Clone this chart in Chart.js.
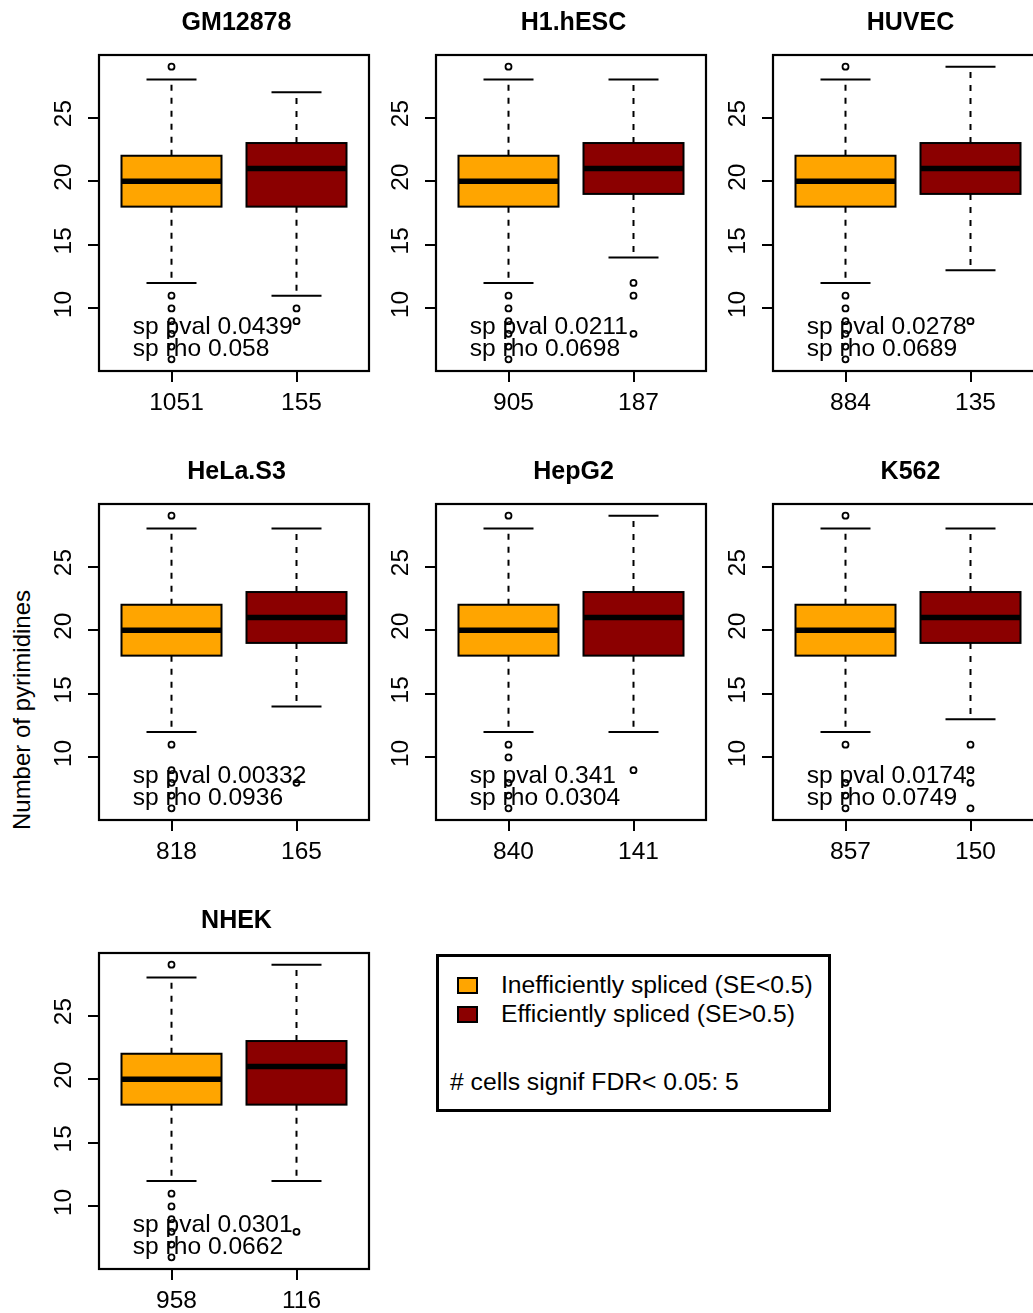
<!DOCTYPE html>
<html>
<head>
<meta charset="utf-8">
<title>Pyrimidines by splicing efficiency</title>
<script src="https://cdn.jsdelivr.net/npm/chart.js@4.4.1/dist/chart.umd.min.js"></script>
<style>
  html, body { margin: 0; padding: 0; background: #fff; }
  body {
    position: relative;
    width: 1033px;
    height: 1313px;
    overflow: hidden;
    font-family: "Liberation Sans", Arial, sans-serif;
    color: #000;
  }
  .panel { position: absolute; }
  .ylab {
    position: absolute;
    left: 22px;
    top: 710px;
    transform: translate(-50%, -50%) rotate(-90deg);
    font-size: 24px;
    white-space: nowrap;
  }
  .legend {
    position: absolute;
    left: 436px;
    top: 954px;
    width: 395px;
    height: 158px;
    box-sizing: border-box;
    border: 3px solid #000;
  }
  .legend .sw {
    position: absolute;
    left: 18px;
    width: 21px;
    height: 17px;
    box-sizing: border-box;
    border: 2px solid #000;
  }
  .legend .txt {
    position: absolute;
    height: 30px;
    line-height: 30px;
    font-size: 24.7px;
    white-space: nowrap;
  }
</style>
</head>
<body>
<div class="ylab">Number of pyrimidines</div>
<div class="legend" id="legend"></div>

<script>
// cell lines, one panel each
const cellLines = ["GM12878", "H1.hESC", "HUVEC", "HeLa.S3", "HepG2", "K562", "NHEK"];

// number of exons in each group (x tick labels)
const nIneff = [1051, 905, 884, 818, 840, 857, 958];
const nEff = [155, 187, 135, 165, 141, 150, 116];

// [lower whisker, Q1, median, Q3, upper whisker]
const statsIneff = [
  [12, 18, 20, 22, 28],
  [12, 18, 20, 22, 28],
  [12, 18, 20, 22, 28],
  [12, 18, 20, 22, 28],
  [12, 18, 20, 22, 28],
  [12, 18, 20, 22, 28],
  [12, 18, 20, 22, 28],
];
const statsEff = [
  [11, 18, 21, 23, 27],
  [14, 19, 21, 23, 28],
  [13, 19, 21, 23, 29],
  [14, 19, 21, 23, 28],
  [12, 18, 21, 23, 29],
  [13, 19, 21, 23, 28],
  [12, 18, 21, 23, 29],
];

// points beyond the whiskers
const outIneff = [
  [29, 11, 10, 9, 8, 7, 6],
  [29, 11, 10, 9, 8, 7, 6],
  [29, 11, 10, 9, 8, 7, 6],
  [29, 11, 9, 8, 7, 6],
  [29, 11, 10, 8, 7, 6],
  [29, 11, 8, 7, 6],
  [29, 11, 10, 9, 8, 7, 6],
];
const outEff = [
  [10, 9],
  [12, 11, 8],
  [9],
  [8],
  [9],
  [11, 9, 8, 6],
  [8],
];

// spearman test per cell line
const spPval = [0.0439, 0.0211, 0.0278, 0.00332, 0.341, 0.0174, 0.0301];
const spRho = [0.058, 0.0698, 0.0689, 0.0936, 0.0304, 0.0749, 0.0662];

const yTicks = [10, 15, 20, 25];
const groupPositions = [1, 2];
const groupColors = ["#FFA500", "#8B0000"];
const legendLabels = ["Inefficiently spliced (SE<0.5)", "Efficiently spliced (SE>0.5)"];
const nSignif = 5;

const FONT = "'Liberation Sans', Arial, sans-serif";
const BOX_HALF = 0.4;
const CAP_HALF = 0.2;

// y range: data range padded by 4% like R does
const allValues = [].concat(...outIneff, ...outEff, ...statsIneff, ...statsEff);
const dataMin = Math.min(...allValues);
const dataMax = Math.max(...allValues);
const yPad = (dataMax - dataMin) * 0.04;
const xPad = groupPositions.length * 0.04;

const boxplotPlugin = {
  id: "boxplot",
  beforeDatasetsDraw(chart, args, opts) {
    const { ctx } = chart;
    const x = chart.scales.x;
    const y = chart.scales.y;
    const i = opts.panel;
    [statsIneff[i], statsEff[i]].forEach((s, g) => {
      const pos = groupPositions[g];
      const cx = x.getPixelForValue(pos);
      const left = x.getPixelForValue(pos - BOX_HALF);
      const right = x.getPixelForValue(pos + BOX_HALF);
      const capL = x.getPixelForValue(pos - CAP_HALF);
      const capR = x.getPixelForValue(pos + CAP_HALF);
      const [lo, q1, med, q3, hi] = s.map((v) => y.getPixelForValue(v));

      ctx.save();
      ctx.strokeStyle = "#000";
      ctx.lineWidth = 2;

      // dashed whiskers
      ctx.setLineDash([6, 7]);
      ctx.beginPath();
      ctx.moveTo(cx, q3);
      ctx.lineTo(cx, hi);
      ctx.stroke();
      ctx.beginPath();
      ctx.moveTo(cx, q1);
      ctx.lineTo(cx, lo);
      ctx.stroke();
      ctx.setLineDash([]);

      // staples
      ctx.beginPath();
      ctx.moveTo(capL, hi);
      ctx.lineTo(capR, hi);
      ctx.moveTo(capL, lo);
      ctx.lineTo(capR, lo);
      ctx.stroke();

      // box
      ctx.fillStyle = groupColors[g];
      ctx.fillRect(left, q3, right - left, q1 - q3);
      ctx.strokeRect(left, q3, right - left, q1 - q3);

      // median
      ctx.lineWidth = 5.5;
      ctx.beginPath();
      ctx.moveTo(left, med);
      ctx.lineTo(right, med);
      ctx.stroke();
      ctx.restore();
    });
  },
  afterDatasetsDraw(chart, args, opts) {
    const { ctx, chartArea } = chart;
    const x = chart.scales.x;
    const y = chart.scales.y;
    const i = opts.panel;

    ctx.save();
    // frame round the plot
    ctx.strokeStyle = "#000";
    ctx.lineWidth = 2.2;
    ctx.strokeRect(chartArea.left, chartArea.top,
      chartArea.right - chartArea.left, chartArea.bottom - chartArea.top);

    // rotated y tick labels
    ctx.fillStyle = "#000";
    ctx.font = "24.5px " + FONT;
    ctx.textAlign = "center";
    ctx.textBaseline = "middle";
    y.ticks.forEach((t) => {
      ctx.save();
      ctx.translate(chartArea.left - 35, y.getPixelForValue(t.value));
      ctx.rotate(-Math.PI / 2);
      ctx.fillText(String(t.value), 4, 0);
      ctx.restore();
    });

    // spearman annotation
    ctx.font = "24.6px " + FONT;
    ctx.textAlign = "left";
    ctx.textBaseline = "alphabetic";
    const tx = x.getPixelForValue(0.69);
    const ty = y.getPixelForValue(8);
    ctx.fillText("sp pval " + spPval[i], tx, ty);
    ctx.fillText("sp rho " + spRho[i], tx, ty + 22);
    ctx.restore();
  },
};

function makePanel(i) {
  const col = i % 3;
  const row = Math.floor(i / 3);
  const canvas = document.createElement("canvas");
  canvas.className = "panel";
  canvas.width = 468;
  canvas.height = 449;
  canvas.style.left = col * 337 + "px";
  canvas.style.top = row * 449 + "px";
  canvas.style.width = "468px";
  canvas.style.height = "449px";
  document.body.appendChild(canvas);

  const counts = [nIneff[i], nEff[i]];
  const outlierSet = (vals, g) => ({
    data: vals.map((v) => ({ x: groupPositions[g], y: v })),
    pointStyle: "circle",
    pointRadius: 3,
    pointBorderWidth: 1.8,
    pointBorderColor: "#000",
    pointBackgroundColor: "rgba(0,0,0,0)",
    showLine: false,
  });

  const tickGrid = {
    drawOnChartArea: false,
    drawTicks: true,
    tickLength: 11,
    color: "#000",
    lineWidth: 2,
  };

  new Chart(canvas, {
    type: "scatter",
    data: {
      datasets: [outlierSet(outIneff[i], 0), outlierSet(outEff[i], 1)],
    },
    options: {
      responsive: false,
      animation: false,
      events: [],
      layout: { padding: { left: 5, right: 0, top: 0, bottom: 0 } },
      plugins: {
        legend: { display: false },
        tooltip: { enabled: false },
        title: {
          display: true,
          text: cellLines[i],
          color: "#000",
          font: { family: FONT, size: 25, weight: "bold" },
          padding: { top: 8, bottom: 17 },
        },
        boxplot: { panel: i },
      },
      scales: {
        x: {
          type: "linear",
          min: groupPositions[0] - 0.5 - xPad,
          max: groupPositions[groupPositions.length - 1] + 0.5 + xPad,
          afterBuildTicks: (s) => {
            s.ticks = groupPositions.map((v) => ({ value: v }));
          },
          afterFit: (s) => {
            s.height = 78;
          },
          ticks: {
            autoSkip: false,
            maxRotation: 0,
            padding: 7,
            labelOffset: 5,
            color: "#000",
            font: { family: FONT, size: 24.5 },
            callback: (value) => String(counts[groupPositions.indexOf(value)]),
          },
          grid: tickGrid,
          border: { display: false },
        },
        y: {
          type: "linear",
          min: dataMin - yPad,
          max: dataMax + yPad,
          afterBuildTicks: (s) => {
            s.ticks = yTicks.map((v) => ({ value: v }));
          },
          afterFit: (s) => {
            s.width = 94;
          },
          ticks: { display: false },
          grid: tickGrid,
          border: { display: false },
        },
        // empty right margin so the title centres over the plot
        yRight: {
          type: "linear",
          position: "right",
          afterFit: (s) => {
            s.width = 99;
          },
          ticks: { display: false },
          grid: { display: false },
          border: { display: false },
        },
      },
    },
    plugins: [boxplotPlugin],
  });
}

cellLines.forEach((name, i) => makePanel(i));

// legend box
const legend = document.getElementById("legend");
legendLabels.forEach((label, g) => {
  const sw = document.createElement("div");
  sw.className = "sw";
  sw.style.top = 20 + g * 29 + "px";
  sw.style.background = groupColors[g];
  legend.appendChild(sw);

  const txt = document.createElement("div");
  txt.className = "txt";
  txt.style.left = "62px";
  txt.style.top = 13 + g * 29 + "px";
  txt.textContent = label;
  legend.appendChild(txt);
});
const note = document.createElement("div");
note.className = "txt";
note.style.left = "11px";
note.style.top = "110px";
note.textContent = "# cells signif FDR< 0.05: " + nSignif;
legend.appendChild(note);
</script>
</body>
</html>
